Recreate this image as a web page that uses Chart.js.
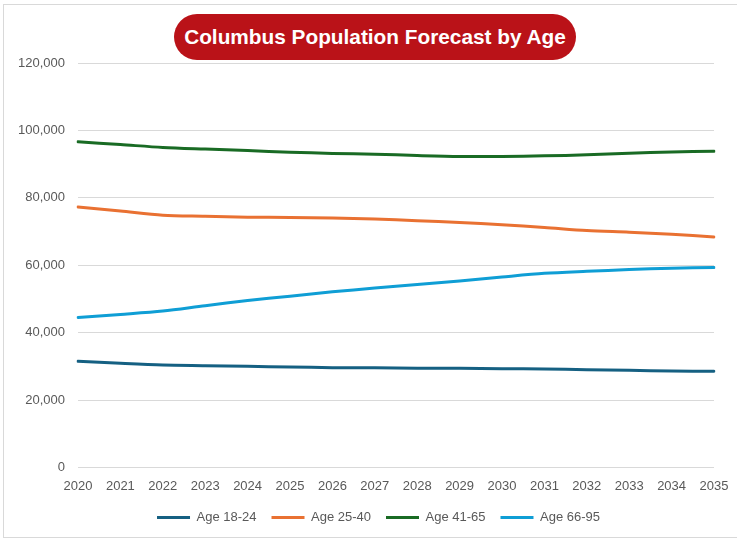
<!DOCTYPE html>
<html>
<head>
<meta charset="utf-8">
<script src="https://cdn.jsdelivr.net/npm/chart.js@4"></script>
<style>
  html, body { margin: 0; padding: 0; background: #fff; }
  #wrap { position: relative; width: 737px; height: 540px; overflow: hidden; }
  #frame {
    position: absolute; left: 3px; top: 4px; width: 740px; height: 534px;
    border: 1px solid #d9d9d9; box-sizing: border-box;
  }
  #chart { position: absolute; left: 0; top: 0; }
  #title {
    position: absolute; left: 174px; top: 14px; width: 402px; height: 46px;
    border-radius: 23px; background: #ba1218; color: #fff;
    font: bold 20.8px "Liberation Sans", Arial, sans-serif;
    display: flex; align-items: center; justify-content: center;
  }
</style>
</head>
<body>
<div id="wrap">
  <div id="frame"></div>
  <canvas id="chart" width="737" height="540"></canvas>
  <div id="title">Columbus Population Forecast by Age</div>
</div>
<script>
// years on the x axis
const years = ['2020', '2021', '2022', '2023', '2024', '2025', '2026', '2027',
               '2028', '2029', '2030', '2031', '2032', '2033', '2034', '2035'];

// forecast population per age group
const age18to24 = [31500, 30900, 30400, 30200, 30000, 29800, 29600, 29600,
                   29400, 29400, 29300, 29200, 29000, 28800, 28600, 28500];
const age25to40 = [77300, 76100, 74850, 74550, 74250, 74150, 74000, 73700,
                   73200, 72700, 72000, 71200, 70300, 69800, 69200, 68400];
const age41to65 = [96600, 95800, 94950, 94450, 94000, 93550, 93150, 92950,
                   92550, 92250, 92250, 92450, 92750, 93200, 93600, 93800];
const age66to95 = [44500, 45400, 46400, 48000, 49500, 50800, 52100, 53200,
                   54300, 55300, 56500, 57600, 58200, 58700, 59100, 59300];

const seriesNames = ['Age 18-24', 'Age 25-40', 'Age 41-65', 'Age 66-95'];
const seriesColors = ['#156082', '#e97132', '#196b24', '#0f9ed5'];
const seriesData = [age18to24, age25to40, age41to65, age66to95];

const yMin = 0, yMax = 120000, yStep = 20000;

const axisFont = { family: '"Liberation Sans", Arial, sans-serif', size: 13 };
const textColor = '#595959';
const gridColor = '#d9d9d9';

// nudge the legend a bit to the right of the plot's centre
const legendShift = {
  id: 'legendShift',
  afterLayout(chart) {
    chart.legend.left += 19;
    chart.legend.right += 19;
  }
};

new Chart(document.getElementById('chart').getContext('2d'), {
  type: 'line',
  data: {
    labels: years,
    datasets: seriesNames.map((name, i) => ({
      label: name,
      data: seriesData[i],
      borderColor: seriesColors[i],
      backgroundColor: seriesColors[i],
      borderWidth: 3,
      borderCapStyle: 'round',
      pointRadius: 0,
      tension: 0.3,
      fill: false
    }))
  },
  options: {
    responsive: false,
    animation: false,
    layout: { padding: { left: 5, right: 23, top: 63, bottom: 6 } },
    plugins: {
      title: { display: false },
      tooltip: { enabled: false },
      legend: {
        position: 'bottom',
        labels: {
          usePointStyle: true,
          pointStyle: 'line',
          pointStyleWidth: 33,
          boxHeight: 13,
          padding: 15,
          color: textColor,
          font: axisFont
        }
      }
    },
    scales: {
      x: {
        offset: false,
        grid: { display: false, drawTicks: false },
        border: { display: false },
        ticks: { color: textColor, font: axisFont, padding: 11, maxRotation: 0, autoSkip: false },
        afterFit: scale => {
          scale.height -= 9;
          scale.paddingRight = 0;
        }
      },
      y: {
        min: yMin,
        max: yMax,
        grid: { color: gridColor, lineWidth: 1, drawTicks: false },
        border: { display: false },
        ticks: {
          stepSize: yStep,
          color: textColor,
          font: axisFont,
          padding: 13,
          callback: v => v.toLocaleString('en-US')
        }
      }
    }
  },
  plugins: [legendShift]
});
</script>
</body>
</html>
